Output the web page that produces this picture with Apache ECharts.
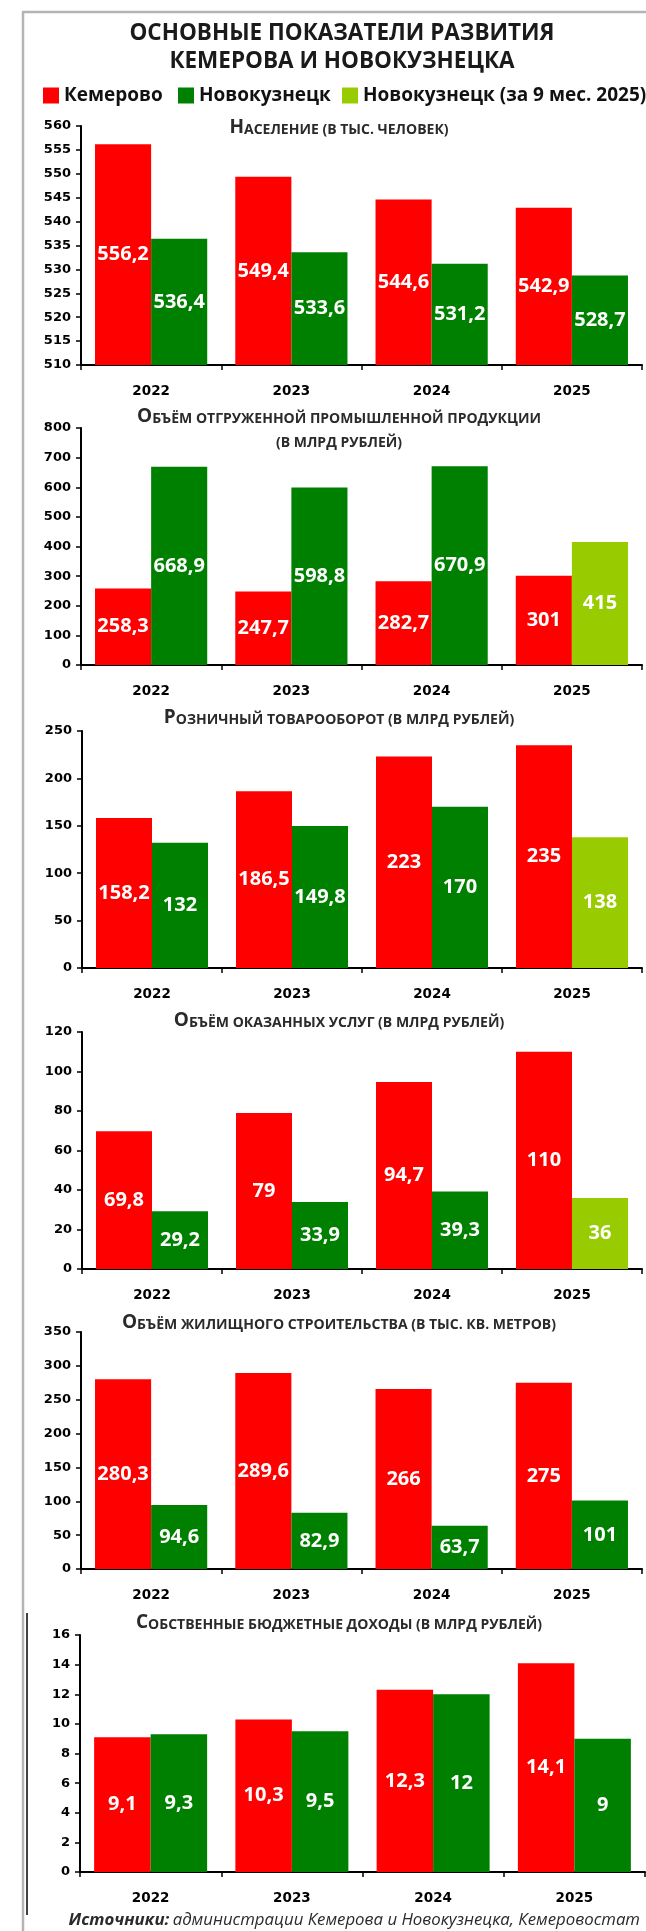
<!DOCTYPE html>
<html>
<head>
<meta charset="utf-8">
<script src="https://cdn.jsdelivr.net/npm/echarts@6.0.0/dist/echarts.min.js"></script>
<style>
  html, body { margin: 0; padding: 0; background: #fff; }
  #chart { width: 646px; height: 1931px; }
</style>
</head>
<body>
<div id="chart"></div>
<script>
// data
const years = ['2022', '2023', '2024', '2025'];

const popKem = [556.2, 549.4, 544.6, 542.9];
const popNovo = [536.4, 533.6, 531.2, 528.7];

const indKem = [258.3, 247.7, 282.7, 301];
const indNovo = [668.9, 598.8, 670.9, null];
const indNovo9m = [null, null, null, 415];

const retKem = [158.2, 186.5, 223, 235];
const retNovo = [132, 149.8, 170, null];
const retNovo9m = [null, null, null, 138];

const srvKem = [69.8, 79, 94.7, 110];
const srvNovo = [29.2, 33.9, 39.3, null];
const srvNovo9m = [null, null, null, 36];

const houseKem = [280.3, 289.6, 266, 275];
const houseNovo = [94.6, 82.9, 63.7, 101];

const budKem = [9.1, 10.3, 12.3, 14.1];
const budNovo = [9.3, 9.5, 12, 9];

const RED = '#ff0000', GREEN = '#008000', LIGHT = '#99cc00';
const NAMES = ['Кемерово', 'Новокузнецк', 'Новокузнецк (за 9 мес. 2025)'];

// layout of the six panels
const panels = [
  { title: ['Население (в тыс. человек)'], ty: [128], top: 126, h: 239, left: 81, w: 561,
    min: 510, max: 560, step: 5, kem: popKem, novo: popNovo },
  { title: ['Объём отгруженной промышленной продукции', '(в млрд рублей)'], ty: [417, 443], top: 428, h: 237, left: 81, w: 561,
    min: 0, max: 800, step: 100, kem: indKem, novo: indNovo, novo9: indNovo9m },
  { title: ['Розничный товарооборот (в млрд рублей)'], ty: [718], top: 731, h: 237, left: 82, w: 560,
    min: 0, max: 250, step: 50, kem: retKem, novo: retNovo, novo9: retNovo9m },
  { title: ['Объём оказанных услуг (в млрд рублей)'], ty: [1021], top: 1032, h: 237, left: 82, w: 560,
    min: 0, max: 120, step: 20, kem: srvKem, novo: srvNovo, novo9: srvNovo9m },
  { title: ['Объём жилищного строительства (в тыс. кв. метров)'], ty: [1323], top: 1332, h: 237, left: 81, w: 561,
    min: 0, max: 350, step: 50, kem: houseKem, novo: houseNovo },
  { title: ['Собственные бюджетные доходы (в млрд рублей)'], ty: [1623], top: 1635, h: 237, left: 80, w: 565,
    min: 0, max: 16, step: 2, kem: budKem, novo: budNovo }
];

// small caps: capitals big, the rest uppercased small
function smallCaps(str) {
  let out = '', cur = null, buf = '';
  for (const ch of str) {
    const big = ch !== ch.toLowerCase();
    const k = big ? 'a' : 'b';
    if (k !== cur && buf) { out += '{' + cur + '|' + buf + '}'; buf = ''; }
    cur = k;
    buf += ch.toUpperCase();
  }
  if (buf) out += '{' + cur + '|' + buf + '}';
  return out;
}

const scRich = {
  a: { fontFamily: 'Open Sans', fontWeight: 'bold', fontSize: 19, fill: '#2a2a2a', verticalAlign: 'bottom' },
  b: { fontFamily: 'Open Sans', fontWeight: 'bold', fontSize: 14, fill: '#2a2a2a', verticalAlign: 'bottom' }
};

const valueLabel = {
  show: true,
  position: 'inside',
  color: '#fff',
  fontFamily: 'Open Sans',
  fontWeight: 'bold',
  fontSize: 20,
  formatter: p => String(p.value).replace('.', ',')
};

const grids = [], xAxes = [], yAxes = [], series = [];
const graphics = [
  { type: 'line', shape: { x1: 23, y1: 12, x2: 23, y2: 1931 }, style: { stroke: '#b4b4b8', lineWidth: 2.5 } },
  { type: 'line', shape: { x1: 22, y1: 12, x2: 646, y2: 12 }, style: { stroke: '#b4b4b8', lineWidth: 2.5 } },
  { type: 'line', shape: { x1: 27, y1: 1613, x2: 27, y2: 1915 }, style: { stroke: '#000', lineWidth: 1.5 } },
  { type: 'text', x: 342, y: 34, style: { text: 'ОСНОВНЫЕ ПОКАЗАТЕЛИ РАЗВИТИЯ', fontFamily: 'Open Sans', fontWeight: 'bold',
      fontSize: 22.5, fill: '#1a1a1a', align: 'center', verticalAlign: 'middle' } },
  { type: 'text', x: 342, y: 62, style: { text: 'КЕМЕРОВА И НОВОКУЗНЕЦКА', fontFamily: 'Open Sans', fontWeight: 'bold',
      fontSize: 22.5, fill: '#1a1a1a', align: 'center', verticalAlign: 'middle' } },
  { type: 'text', x: 640, y: 1920, style: {
      text: '{a|Источники:} {b|администрации Кемерова и Новокузнецка, Кемеровостат}',
      align: 'right', verticalAlign: 'middle',
      rich: {
        a: { fontFamily: 'Open Sans', fontWeight: 'bold', fontStyle: 'italic', fontSize: 16.8, fill: '#2a2a2a' },
        b: { fontFamily: 'Open Sans', fontStyle: 'italic', fontSize: 16.8, fill: '#2a2a2a' }
      } } }
];

panels.forEach((p, i) => {
  grids.push({ left: p.left, top: p.top, width: p.w, height: p.h });
  xAxes.push({
    type: 'category', gridIndex: i, data: years,
    axisLine: { lineStyle: { color: '#000', width: 2 } },
    axisTick: { show: true, length: 5, lineStyle: { color: '#000', width: 1.5 } },
    axisLabel: { color: '#000', fontFamily: 'DejaVu Sans', fontWeight: 'bold', fontSize: 13.5, margin: 19 }
  });
  yAxes.push({
    type: 'value', gridIndex: i, min: p.min, max: p.max, interval: p.step,
    axisLine: { show: true, lineStyle: { color: '#000', width: 2 } },
    axisTick: { show: true, length: 5, lineStyle: { color: '#000', width: 1.5 } },
    splitLine: { show: false },
    axisLabel: { color: '#000', fontFamily: 'DejaVu Sans', fontWeight: 'bold', fontSize: 13, margin: 10 }
  });
  series.push({
    name: NAMES[0], type: 'bar', xAxisIndex: i, yAxisIndex: i, data: p.kem,
    itemStyle: { color: RED }, label: valueLabel, barGap: '0%', barCategoryGap: '20%'
  });
  const novo = {
    name: NAMES[1], type: 'bar', xAxisIndex: i, yAxisIndex: i, data: p.novo,
    itemStyle: { color: GREEN }, label: valueLabel, barGap: '0%', barCategoryGap: '20%'
  };
  if (p.novo9) novo.stack = 'novo' + i;
  series.push(novo);
  if (p.novo9) {
    series.push({
      name: NAMES[2], type: 'bar', xAxisIndex: i, yAxisIndex: i, data: p.novo9, stack: 'novo' + i,
      itemStyle: { color: LIGHT }, label: valueLabel, barGap: '0%', barCategoryGap: '20%'
    });
  }
  p.title.forEach((t, k) => {
    graphics.push({ type: 'text', x: 339, y: p.ty[k], style: {
      text: smallCaps(t), rich: scRich, align: 'center', verticalAlign: 'middle' } });
  });
});

const legendText = { fontFamily: 'Open Sans', fontWeight: 'bold', fontSize: 19, color: '#111' };
const legendBase = { top: 86, padding: 0, itemWidth: 16, itemHeight: 16, icon: 'rect', selectedMode: false, textStyle: legendText };

const chart = echarts.init(document.getElementById('chart'), null, { renderer: 'canvas' });
chart.setOption({
  animation: false,
  backgroundColor: '#fff',
  legend: [
    Object.assign({ data: [NAMES[0]], left: 43 }, legendBase),
    Object.assign({ data: [NAMES[1]], left: 178 }, legendBase),
    Object.assign({ data: [NAMES[2]], left: 342 }, legendBase)
  ],
  grid: grids,
  xAxis: xAxes,
  yAxis: yAxes,
  series: series,
  graphic: graphics
});
</script>
</body>
</html>
